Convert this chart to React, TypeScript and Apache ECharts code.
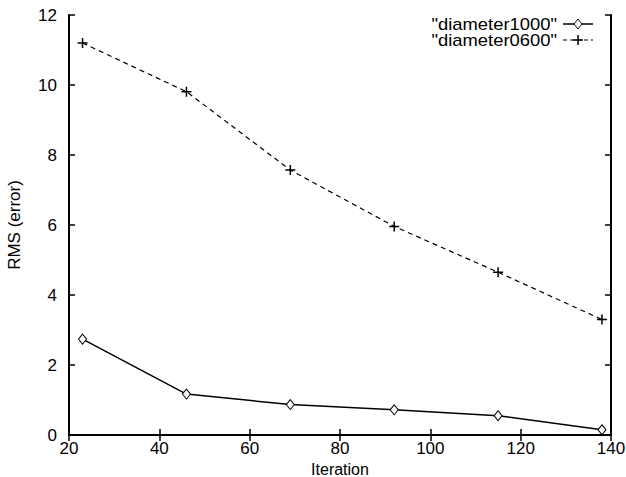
import React, { useEffect, useRef } from "react";
import * as echarts from "echarts";

const iterations = [23, 46, 69, 92, 115, 138];
const diameter1000 = [2.74, 1.17, 0.87, 0.72, 0.55, 0.15];
const diameter0600 = [11.2, 9.81, 7.57, 5.96, 4.65, 3.3];
const seriesNames = ['"diameter1000"', '"diameter0600"'];

const FONT = "'Liberation Sans', Arial, Helvetica, sans-serif";
const PLUS = "path://M0,5L10,5M5,0L5,10";

export default function App() {
  const ref = useRef<HTMLDivElement>(null);
  useEffect(() => {
    if (!ref.current) return;
    const chart = echarts.init(ref.current, undefined, { renderer: "svg" });
    const axisCommon = {
      axisLine: { show: true, lineStyle: { color: "#000", width: 2 } },
      axisTick: { show: true, inside: true, length: 6, lineStyle: { color: "#000", width: 1.5 } },
      splitLine: { show: false },
    };
    const d1 = iterations.map((x, i) => [x, diameter1000[i]]);
    const d2 = iterations.map((x, i) => [x, diameter0600[i]]);
    const fs = 17;
    const ly1 = 24;
    const ly2 = 40;
    chart.setOption({
      animation: false,
      backgroundColor: "#fff",
      grid: { left: 69, right: 15, top: 15, bottom: 42, containLabel: false, outerBoundsMode: "none" },
      xAxis: [
        {
          type: "value",
          min: 20,
          max: 140,
          interval: 20,
          position: "bottom",
          name: "Iteration",
          nameLocation: "middle",
          nameGap: 23,
          nameTextStyle: { fontFamily: FONT, fontSize: 16, color: "#000", lineHeight: 16 },
          axisLabel: { fontFamily: FONT, fontSize: fs, color: "#000", margin: 5 },
          ...axisCommon,
        },
        {
          type: "value",
          min: 20,
          max: 140,
          interval: 20,
          position: "top",
          axisLabel: { show: false },
          ...axisCommon,
        },
      ],
      yAxis: [
        {
          type: "value",
          min: 0,
          max: 12,
          interval: 2,
          position: "left",
          name: "RMS (error)",
          nameLocation: "middle",
          nameGap: 46,
          nameTextStyle: { fontFamily: FONT, fontSize: fs, color: "#000" },
          axisLabel: { fontFamily: FONT, fontSize: fs, color: "#000", margin: 12 },
          ...axisCommon,
        },
        {
          type: "value",
          min: 0,
          max: 12,
          interval: 2,
          position: "right",
          axisLabel: { show: false },
          ...axisCommon,
        },
      ],
      series: [
        {
          name: seriesNames[0],
          type: "line",
          data: d1,
          symbol: "diamond",
          symbolSize: [8, 10],
          showAllSymbol: true,
          lineStyle: { color: "#000", width: 1.5, type: "solid" },
          itemStyle: { color: "#fff", borderColor: "#000", borderWidth: 1 },
          z: 3,
        },
        {
          name: seriesNames[1],
          type: "line",
          data: d2,
          symbol: PLUS,
          symbolSize: 10,
          showAllSymbol: true,
          lineStyle: { color: "#000", width: 1.2, type: [5, 4] },
          itemStyle: { color: "none", borderColor: "#000", borderWidth: 1.5 },
          z: 3,
        },
      ],
      graphic: [
        {
          type: "text",
          x: 557,
          y: ly1,
          scaleX: 1.15,
          style: { text: seriesNames[0], fontFamily: FONT, fontSize: 16, fill: "#000", align: "right", verticalAlign: "middle" },
        },
        {
          type: "text",
          x: 557,
          y: ly2,
          scaleX: 1.15,
          style: { text: seriesNames[1], fontFamily: FONT, fontSize: 16, fill: "#000", align: "right", verticalAlign: "middle" },
        },
        {
          type: "line",
          shape: { x1: 563, y1: ly1, x2: 593, y2: ly1 },
          style: { stroke: "#000", lineWidth: 1.5 },
        },
        {
          type: "polygon",
          shape: { points: [[574, ly1], [578, ly1 - 5], [582, ly1], [578, ly1 + 5]] },
          style: { fill: "#fff", stroke: "#000", lineWidth: 1 },
        },
        {
          type: "line",
          shape: { x1: 563, y1: ly2, x2: 593, y2: ly2 },
          style: { stroke: "#000", lineWidth: 1.2, lineDash: [4, 3] },
        },
        {
          type: "line",
          shape: { x1: 573, y1: ly2, x2: 583, y2: ly2 },
          style: { stroke: "#000", lineWidth: 1.5 },
        },
        {
          type: "line",
          shape: { x1: 578, y1: ly2 - 5, x2: 578, y2: ly2 + 5 },
          style: { stroke: "#000", lineWidth: 1.5 },
        },
      ],
    });
    return () => chart.dispose();
  }, []);
  return <div ref={ref} style={{ position: "absolute", left: 0, top: 0, width: 626, height: 477 }} />;
}
